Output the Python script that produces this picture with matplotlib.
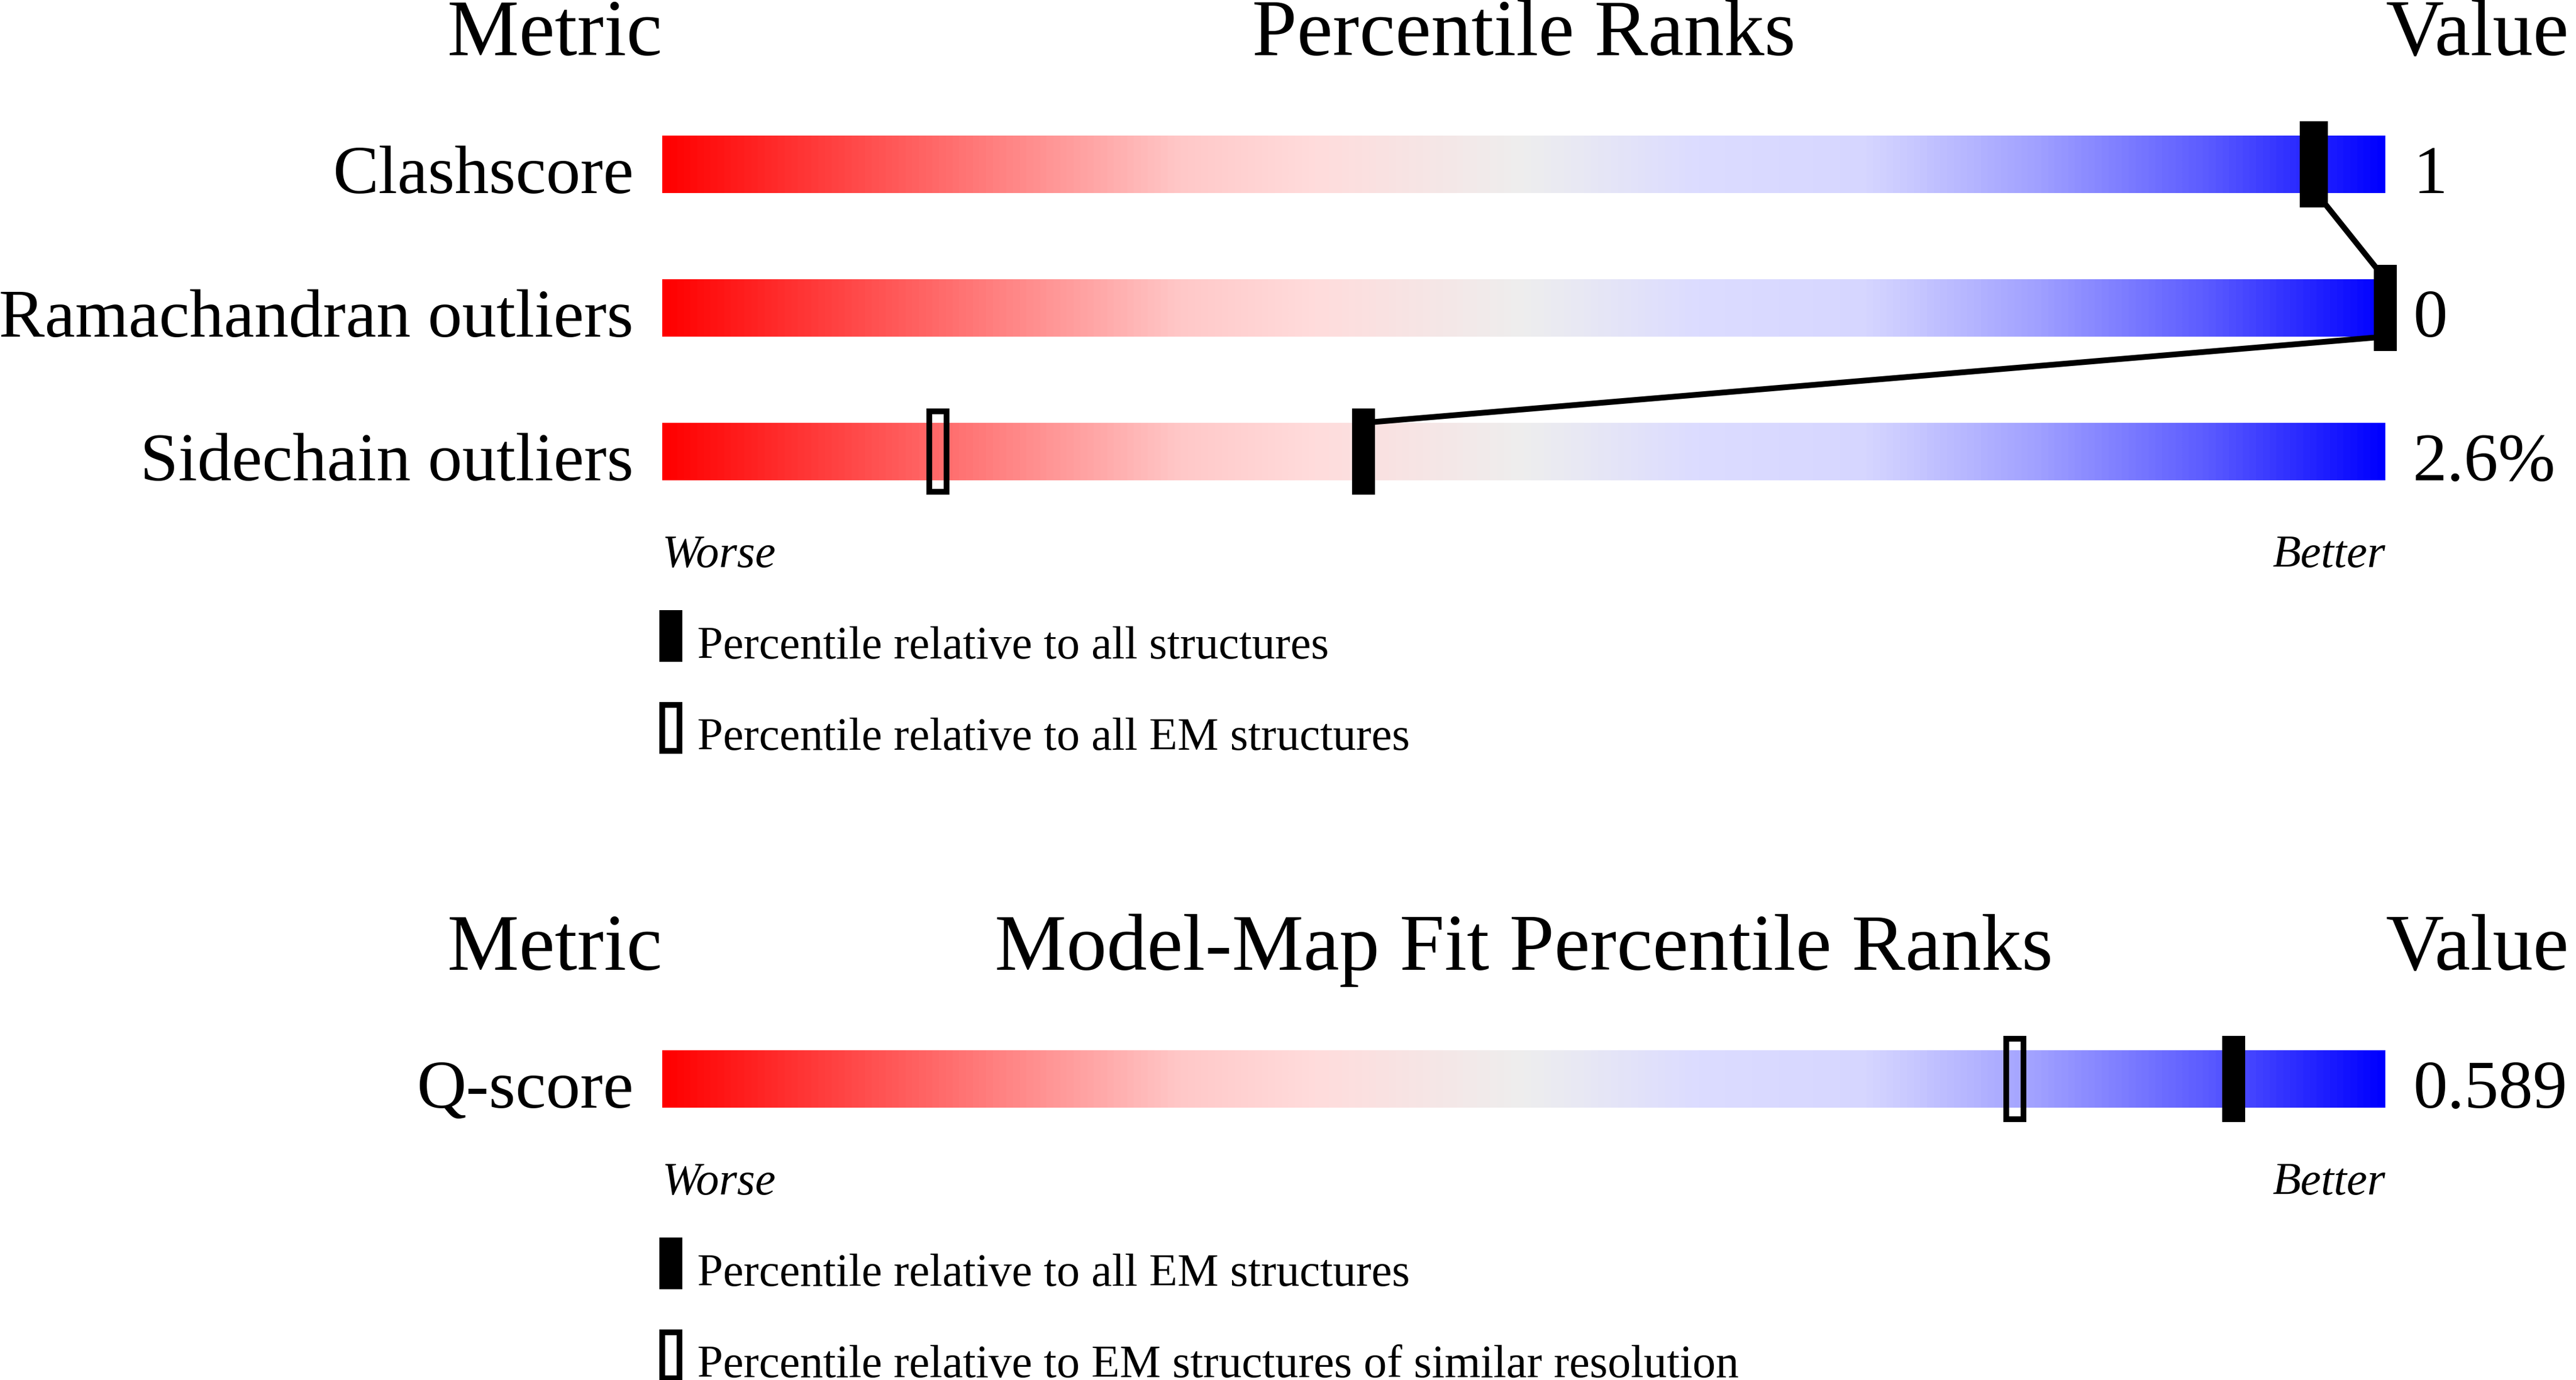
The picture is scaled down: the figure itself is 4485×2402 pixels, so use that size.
import numpy as np
import matplotlib
matplotlib.use('Agg')
import matplotlib.pyplot as plt
from matplotlib.colors import LinearSegmentedColormap
from matplotlib.patches import Rectangle

plt.rcParams['font.family'] = ['Liberation Serif', 'DejaVu Serif']

# TOP PANEL: geometry validation #
metrics = ['Clashscore', 'Ramachandran outliers', 'Sidechain outliers']
values = ['1', '0', '2.6%']
pct_all = [96, 100, 40.7]      # filled marker (all structures)
pct_em = [95.7, 100, 16]       # hollow marker (all EM structures)
legend_top = ['Percentile relative to all structures',
              'Percentile relative to all EM structures']

# BOTTOM PANEL: model-map fit #
fit_metrics = ['Q-score']
fit_values = ['0.589']
fit_pct_all = [91.2]           # filled marker (all EM structures)
fit_pct_res = [78.5]           # hollow marker (similar resolution)
legend_bottom = ['Percentile relative to all EM structures',
                 'Percentile relative to EM structures of similar resolution']

W, H, DPI = 4485, 2402, 100
XPX = 30.0     # pixels per percentile unit
YPX = 250.0    # pixels per row

slider = LinearSegmentedColormap.from_list('slider', [
    (0.00, '#ff0000'), (0.30, '#ffc8c8'), (0.38, '#ffdcdc'),
    (0.50, '#eeeeee'), (0.60, '#dcdcff'), (0.70, '#d6d6ff'),
    (0.80, '#a0a0ff'), (0.90, '#5a5aff'), (1.00, '#0000ff')])
grad = np.linspace(0, 1, 600).reshape(1, -1)

fig = plt.figure(figsize=(W / DPI, H / DPI), dpi=DPI)

BIG = 101
MID = 86
SMALL = 58
lw_px = 10 * 72 / DPI


def panel(px_top, px_bot, row0_px, names, vals, p_fill, p_hollow, title, leg, connect):
    # axes covering the bar area horizontally, with y in row units
    ax = fig.add_axes([1153 / W, 1 - px_bot / H, 3000 / W, (px_bot - px_top) / H])
    ax.set_xlim(0, 100)
    ax.set_ylim((px_bot - row0_px) / YPX, (px_top - row0_px) / YPX)
    ax.axis('off')
    n = len(names)

    # header
    hy = -0.2 - 140 / YPX
    ax.text(0, hy, 'Metric', ha='right', va='baseline', fontsize=BIG)
    ax.text(50, hy, title, ha='center', va='baseline', fontsize=BIG)
    ax.text(100, hy, 'Value', ha='left', va='baseline', fontsize=BIG)

    for i in range(n):
        ax.imshow(grad, cmap=slider, aspect='auto', extent=(0, 100, i + 0.2, i - 0.2),
                  interpolation='bilinear', zorder=1)
        ax.text(-50 / XPX, i + 0.2, names[i], ha='right', va='baseline', fontsize=MID)
        ax.text(101.6, i + 0.2, vals[i], ha='left', va='baseline', fontsize=MID)

    # connecting lines between filled markers
    if connect:
        for i in range(n - 1):
            ax.plot([p_fill[i], p_fill[i + 1]], [i + 0.2, i + 0.8], color='black',
                    lw=lw_px, solid_capstyle='butt', zorder=2, clip_on=False)

    mw = 40 / XPX
    for i in range(n):
        ax.add_patch(Rectangle((p_hollow[i] - 15 / XPX, i - 70 / YPX), 30 / XPX, 140 / YPX,
                               facecolor='none', edgecolor='black', lw=lw_px, zorder=3,
                               clip_on=False))
        ax.add_patch(Rectangle((p_fill[i] - mw / 2, i - 0.3), mw, 0.6,
                               facecolor='black', edgecolor='none', zorder=4, clip_on=False))

    last = n - 1 + 0.2
    ax.text(0, last + 151 / YPX, 'Worse', style='italic', ha='left', va='baseline', fontsize=SMALL)
    ax.text(100, last + 151 / YPX, 'Better', style='italic', ha='right', va='baseline', fontsize=SMALL)

    # legend
    lx = -5 / XPX
    ax.add_patch(Rectangle((lx, last + 226 / YPX), mw, 90 / YPX, facecolor='black',
                           edgecolor='none', clip_on=False))
    ax.text(61 / XPX, last + 310 / YPX, leg[0], ha='left', va='baseline', fontsize=SMALL)
    ax.add_patch(Rectangle((lx + 5 / XPX, last + 391 / YPX), 30 / XPX, 80 / YPX, facecolor='none',
                           edgecolor='black', lw=lw_px, clip_on=False))
    ax.text(61 / XPX, last + 469 / YPX, leg[1], ha='left', va='baseline', fontsize=SMALL)
    return ax


panel(0, 1400, 286, metrics, values, pct_all, pct_em, 'Percentile Ranks', legend_top, True)
panel(1420, 2402, 1878, fit_metrics, fit_values, fit_pct_all, fit_pct_res,
      'Model-Map Fit Percentile Ranks', legend_bottom, False)

fig.savefig('out.png', dpi=DPI, facecolor='white')
